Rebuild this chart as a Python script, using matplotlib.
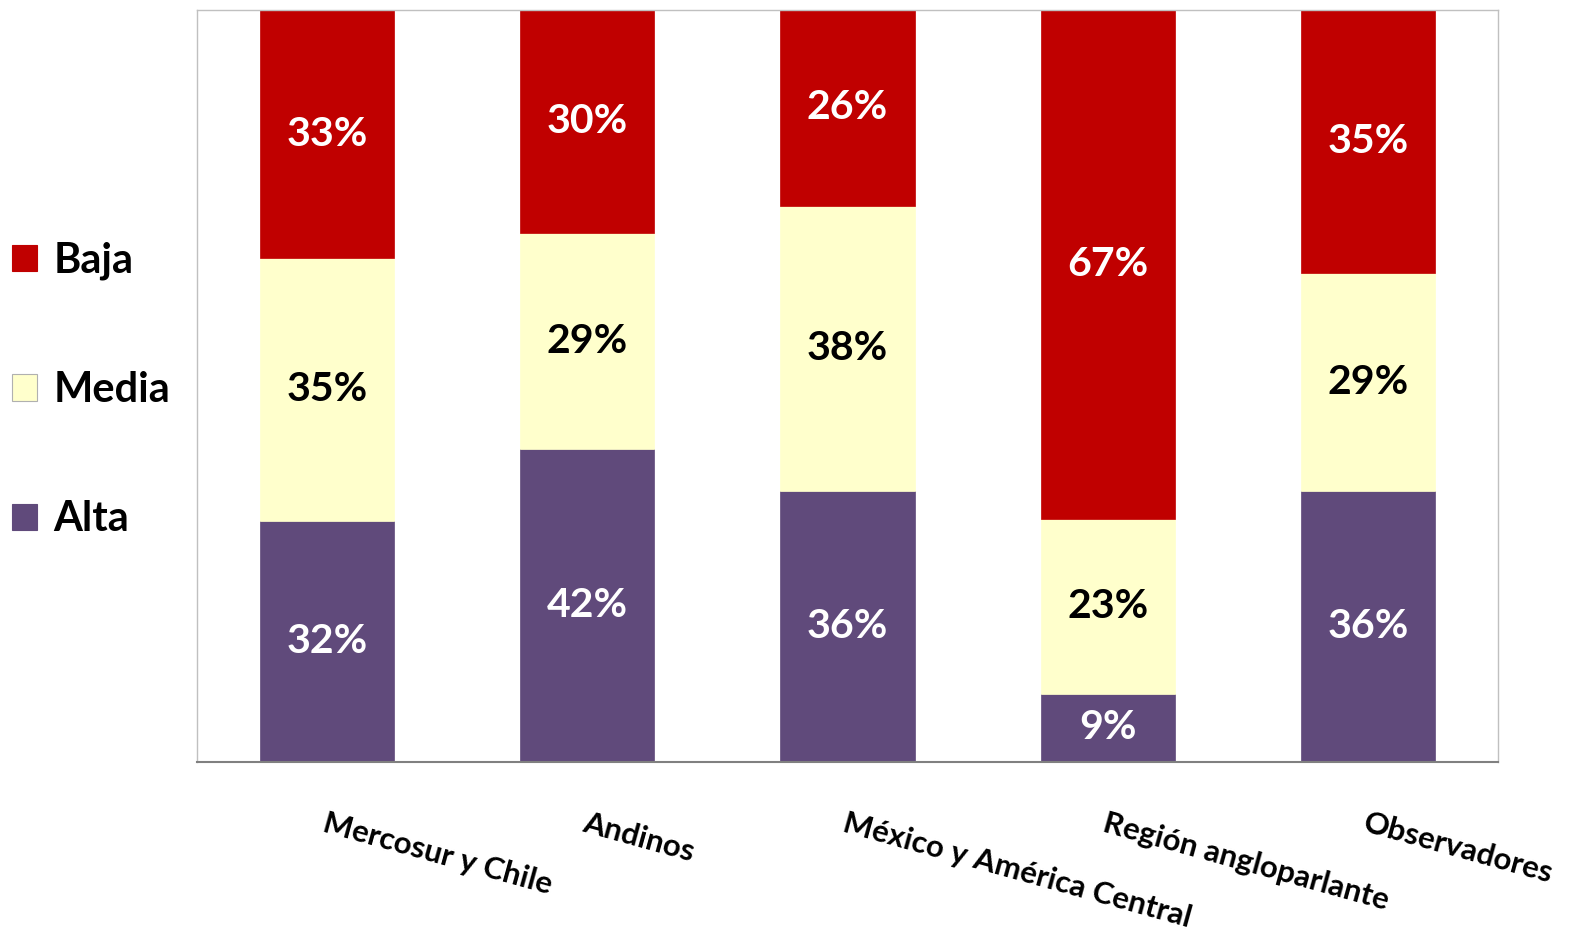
import matplotlib
matplotlib.use("Agg")
import matplotlib.pyplot as plt
from matplotlib.patches import Patch
import numpy as np

categories = ["Mercosur y Chile", "Andinos", "México y América Central",
              "Región angloparlante", "Observadores"]
alta = [32, 42, 36, 9, 36]
media = [35, 29, 38, 23, 29]
baja = [33, 30, 26, 67, 35]
series_names = ["Alta", "Media", "Baja"]
colors = ["#604A7B", "#FFFFCC", "#C00000"]
text_colors = ["white", "black", "white"]

plt.rcParams['font.family'] = ['Lato', 'DejaVu Sans']
plt.rcParams['font.weight'] = 'bold'

fig = plt.figure(figsize=(15.76, 9.41), dpi=100)
ax = fig.add_axes([197/1576, 1-762/941, (1498-197)/1576, (762-10)/941])

data = np.array([alta, media, baja], dtype=float)
totals = data.sum(axis=0)
frac = data / totals
x = np.arange(len(categories))
bottom = np.zeros(len(categories))
for i in range(3):
    ax.bar(x, frac[i], bottom=bottom, width=0.515, color=colors[i],
           edgecolor=colors[i], linewidth=0.5, zorder=2)
    for j in range(len(categories)):
        ax.text(x[j], bottom[j] + frac[i][j] / 2, f"{int(data[i][j])}%",
                ha='center', va='center', color=text_colors[i],
                fontsize=29.5, fontweight='bold', zorder=3)
    bottom += frac[i]

ax.set_xlim(-0.5, len(categories) - 0.5)
ax.set_ylim(0, 1)
ax.set_yticks([])
ax.set_xticks(x)
ax.set_xticklabels(categories, rotation=-15.5, ha='left', rotation_mode='anchor',
                   fontsize=22.5, fontweight='bold')
ax.tick_params(axis='x', length=0, pad=34)
for s in ['top', 'left', 'right']:
    ax.spines[s].set_color('#c0c0c0')
    ax.spines[s].set_linewidth(1)
ax.spines['bottom'].set_color('#808080')
ax.spines['bottom'].set_linewidth(1.5)

handles = [Patch(facecolor=colors[i], edgecolor='#b0b0b0' if i == 1 else colors[i],
                 linewidth=0.8) for i in [2, 1, 0]]
labels = [series_names[i] for i in [2, 1, 0]]
fig.legend(handles, labels, loc='center left', bbox_to_anchor=(12/1576, 1-390/941),
           frameon=False, prop={'family': 'Lato', 'weight': 'bold', 'size': 30},
           handlelength=0.6, handleheight=0.6, handletextpad=0.4,
           labelspacing=2.19, borderpad=0, borderaxespad=0)

fig.savefig("out.png", dpi=100)
